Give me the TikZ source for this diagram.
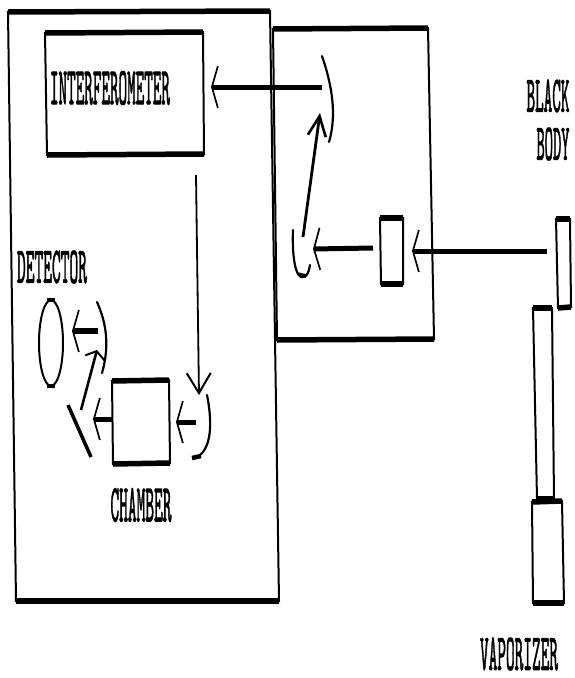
\documentclass[tikz,border=0pt]{standalone}
\usepackage{graphicx}
\usepackage{fontspec}
\newfontfamily\lblfont{Latin Modern Mono}[FakeBold=2]
\usetikzlibrary{arrows.meta,shapes.geometric}
\newcommand{\lbl}[3]{\resizebox{#1pt}{#2pt}{\lblfont #3}}
\newcommand{\qbox}[5]{%
  \coordinate (#1tl) at (#2); \coordinate (#1tr) at (#3);
  \coordinate (#1br) at (#4); \coordinate (#1bl) at (#5);
  \draw[frame] (#1tl) -- (#1tr) -- (#1br) -- (#1bl) -- cycle;
  \draw[bar] (#1tl) -- (#1tr);
  \draw[bar] (#1bl) -- (#1br);
}
\tikzset{
  frame/.style={line width=2pt,line join=miter},
  bar/.style={line width=5.5pt},
  mirror/.style={line width=2.2pt,line cap=round},
  barb/.tip={Straight Barb[length=6pt,width=42pt,line width=1.7pt]},
  beam/.style={line width=5pt,-{barb}},
  midbeam/.style={line width=2.6pt,-{Straight Barb[length=7pt,width=20pt,line width=2pt]}},
  thinbeam/.style={line width=1.8pt,-{Straight Barb[length=20pt,width=24pt,line width=2pt]}},
  lab/.style={inner sep=0pt,outer sep=0pt}
}
\begin{document}
\begin{tikzpicture}[x=1pt,y=-1pt]
\useasboundingbox (0,0) rectangle (574,678);
% boxes
\qbox{out}{8,12}{270,11}{279,601}{16,601}
\qbox{opt}{273,29}{428,28}{434,339}{277,340}
\qbox{intf}{45,33}{203,32}{204,154}{47,155}
\qbox{cham}{112,381}{169,380}{170,463}{113,464}
\qbox{win}{380,218}{403,218}{403,284}{381,284}
\qbox{bb}{556,219}{570,219}{571,307}{558,308}
\qbox{tube}{533,308}{552,308}{554,499}{537,499}
\qbox{vap}{532,502}{562,501}{564,603}{533,603}
% labels
\node[lab] (tintf) at (110,88) {\lbl{120}{33}{INTERFEROMETER}};
\node[lab] (tdet) at (52,267) {\lbl{70}{32}{DETECTOR}};
\node[lab] (tcham) at (141,505) {\lbl{61}{33}{CHAMBER}};
\node[lab] (tblack) at (548,96) {\lbl{43}{32}{BLACK}};
\node[lab] (tbody) at (553,144) {\lbl{33}{32}{BODY}};
\node[lab] (tvap) at (519,654) {\lbl{78}{32}{VAPORIZER}};
% detector
\node[draw,ellipse,line width=2pt,minimum width=24pt,minimum height=86pt,inner sep=0pt] (det) at (51,343) {};
\draw[line width=3.5pt] ([xshift=-4pt,yshift=-1pt]det.north) -- ([xshift=4pt,yshift=-1pt]det.north);
\draw[line width=3.5pt] ([xshift=-4pt,yshift=1pt]det.south) -- ([xshift=4pt,yshift=1pt]det.south);
% mirrors
\coordinate (ma) at (322,56); \coordinate (mb) at (329,142);
\draw[mirror] (ma) .. controls (332,85) and (337,115) .. (mb);
\coordinate (na) at (293,230); \coordinate (nb) at (310,265);
\draw[mirror] (na) .. controls (292,255) and (295,280) .. (304,277) .. controls (307,276) and (309,272) .. (nb);
\draw[line width=3.5pt] (298,274) -- (306,276);
\coordinate (pa) at (207,395); \coordinate (pb) at (193,459);
\draw[mirror] (pa) .. controls (212,420) and (212,445) .. (200,455) -- (pb);
\draw[line width=4.5pt] (192,458) -- (201,456);
\coordinate (qa) at (68,405); \coordinate (qb) at (91,457);
\draw[line width=3.5pt] (qa) -- (qb);
\coordinate (ra) at (97,302); \coordinate (rb) at (102,373);
\draw[mirror] (ra) .. controls (106,322) and (110,345) .. (rb);
% beams
\coordinate (s1) at (547,251); \coordinate (w1) at (412,251);
\draw[beam] (s1) -- (w1);
\coordinate (w2) at (373,248); \coordinate (n1) at (313,249);
\draw[beam] (w2) -- (n1);
\coordinate (n2) at (303,237); \coordinate (m2) at (320,113);
\draw[line width=2.8pt,-{Straight Barb[length=20pt,width=18pt,line width=2.6pt]}] (n2) -- (m2);
\coordinate (m1) at (322,87); \coordinate (i1) at (211,87);
\draw[beam] (m1) -- (i1);
\coordinate (i2) at (196,175); \coordinate (p1) at (199,395);
\draw[thinbeam] (i2) -- (p1);
\coordinate (p2) at (196,422); \coordinate (c1) at (176,422);
\draw[beam] (p2) -- (c1);
\coordinate (c2) at (112,419); \coordinate (q1) at (93,419);
\draw[beam] (c2) -- (q1);
\coordinate (q2) at (81,410); \coordinate (r1) at (97,350);
\draw[midbeam] (q2) -- (r1);
\coordinate (r2) at (98,331); \coordinate (d1) at (72,331);
\draw[beam,line width=5.5pt] (r2) -- (d1);
\end{tikzpicture}
\end{document}
